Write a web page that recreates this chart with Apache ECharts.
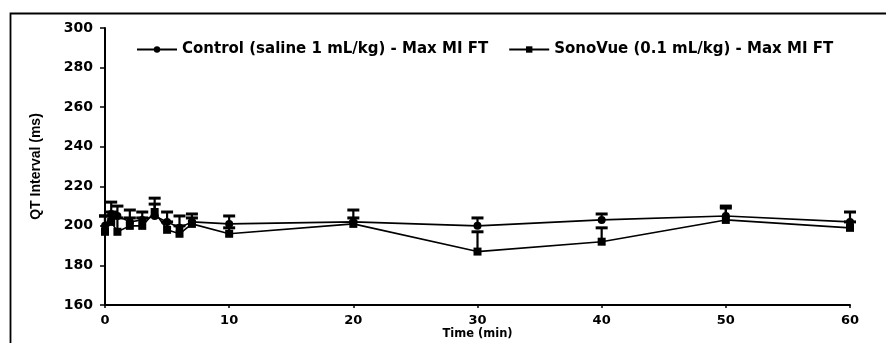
<!DOCTYPE html>
<html>
<head>
<meta charset="utf-8">
<script src="https://cdn.jsdelivr.net/npm/echarts@6/dist/echarts.min.js"></script>
<style>html,body{margin:0;padding:0;background:#fff;}#c{width:886px;height:343px;}</style>
</head>
<body>
<div id="c"></div>
<script>
var times = [0, 0.5, 1, 2, 3, 4, 5, 6, 7, 10, 20, 30, 40, 50, 60];
var controlQT = [200, 206, 205, 202, 203, 205, 202, 199, 202, 201, 202, 200, 203, 205, 202];
var controlErr = [5, 6, 5, 6, 4, 9, 5, 6, 4, 4, 6, 4, 3, 5, 5];
var sonoQT = [197, 202, 197, 200, 200, 207, 198, 196, 201, 196, 201, 187, 192, 203, 199];
var sonoErr = [8, 5, 7, 4, 4, 4, 4, 4, 3, 3, 3, 10, 7, 6, 3];
var yTicks = [160, 180, 200, 220, 240, 260, 280, 300];
var xTicks = [0, 10, 20, 30, 40, 50, 60];
var nameControl = 'Control (saline 1 mL/kg) - Max MI FT';
var nameSono = 'SonoVue (0.1 mL/kg) - Max MI FT';

function pairs(xs, ys) { return xs.map(function (x, i) { return [x, ys[i]]; }); }
function errData(xs, ys, es) { return xs.map(function (x, i) { return [x, ys[i], ys[i] + es[i]]; }); }

function errRender(params, api) {
  var p0 = api.coord([api.value(0), api.value(1)]);
  var p1 = api.coord([api.value(0), api.value(2)]);
  var w = 6;
  return {
    type: 'group',
    children: [
      { type: 'line', shape: { x1: p0[0], y1: p0[1], x2: p1[0], y2: p1[1] }, style: { stroke: '#000', lineWidth: 2.2 } },
      { type: 'line', shape: { x1: p1[0] - w, y1: p1[1], x2: p1[0] + w, y2: p1[1] }, style: { stroke: '#000', lineWidth: 3 } }
    ]
  };
}

var font = 'DejaVu Sans, Liberation Sans, Arial, sans-serif';
var chart = echarts.init(document.getElementById('c'));
chart.setOption({
  backgroundColor: '#fff',
  animation: false,
  graphic: [{
    type: 'rect', left: 8, top: 11,
    shape: { width: 877, height: 340 },
    style: { fill: 'none', stroke: '#000', lineWidth: 1.8 }, silent: true
  }],
  grid: { left: 105, right: 36, top: 28, bottom: 38, outerBoundsMode: 'none', containLabel: false },
  legend: {
    left: 131, top: 37, itemGap: 20, itemWidth: 40, itemHeight: 8,
    textStyle: { fontFamily: font, fontWeight: 'bold', fontSize: 15, color: '#000' },
    data: [nameControl, nameSono]
  },
  xAxis: {
    type: 'value', min: 0, max: 60, interval: 10,
    name: 'Time (min)', nameLocation: 'middle', nameGap: 23, nameMoveOverlap: false,
    nameTextStyle: { fontFamily: font, fontWeight: 'bold', fontSize: 11.5, color: '#000' },
    axisLine: { lineStyle: { color: '#000', width: 2 } },
    axisTick: { show: true, length: 3, lineStyle: { color: '#000', width: 1.5 } },
    axisLabel: { fontFamily: font, fontWeight: 'bold', fontSize: 13, color: '#000', margin: 9 },
    splitLine: { show: false }
  },
  yAxis: {
    type: 'value', min: 160, max: 300, interval: 20,
    name: 'QT Interval (ms)', nameLocation: 'middle', nameGap: 62, nameRotate: 90,
    nameTextStyle: { fontFamily: 'Liberation Sans, Arial, sans-serif', fontWeight: 'bold', fontSize: 14, color: '#000' },
    axisLine: { show: true, lineStyle: { color: '#000', width: 2 } },
    axisTick: { show: true, length: 5, lineStyle: { color: '#000', width: 1.5 } },
    axisLabel: { fontFamily: font, fontWeight: 'bold', fontSize: 14, color: '#000', margin: 12 },
    splitLine: { show: false }
  },
  series: [
    {
      name: nameControl, type: 'line', data: pairs(times, controlQT),
      symbol: 'circle', symbolSize: 8, z: 3,
      lineStyle: { color: '#000', width: 1.6 }, itemStyle: { color: '#000' }
    },
    {
      name: nameSono, type: 'line', data: pairs(times, sonoQT),
      symbol: 'rect', symbolSize: 8, z: 3,
      lineStyle: { color: '#000', width: 1.6 }, itemStyle: { color: '#000' }
    },
    { type: 'custom', renderItem: errRender, data: errData(times, controlQT, controlErr), z: 2, silent: true },
    { type: 'custom', renderItem: errRender, data: errData(times, sonoQT, sonoErr), z: 2, silent: true }
  ]
});
</script>
</body>
</html>
